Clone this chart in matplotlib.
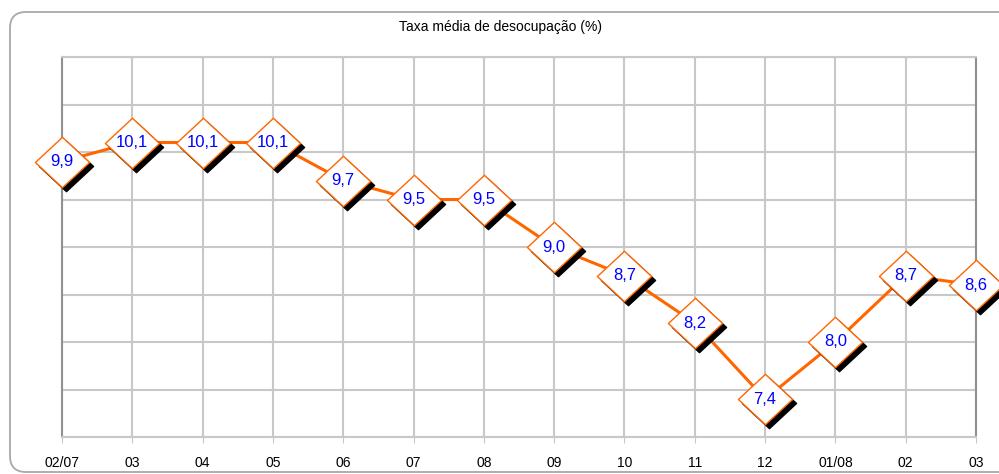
import matplotlib
matplotlib.use("Agg")
import matplotlib.pyplot as plt
from matplotlib.patches import FancyBboxPatch
from matplotlib.path import Path
import matplotlib.transforms as mtransforms

plt.rcParams['font.family'] = ['Liberation Sans', 'DejaVu Sans']

# Data
months = ['02/07', '03', '04', '05', '06', '07', '08', '09', '10', '11', '12', '01/08', '02', '03']
rates = [9.9, 10.1, 10.1, 10.1, 9.7, 9.5, 9.5, 9.0, 8.7, 8.2, 7.4, 8.0, 8.7, 8.6]
title = 'Taxa média de desocupação (%)'

orange = '#FF6600'
grid_gray = '#C8C8C8'

fig = plt.figure(figsize=(9.99, 4.74), dpi=100)

# rounded outer frame (in inches)
frame = FancyBboxPatch((0.10, 0.02), 10.05, 4.60,
                       boxstyle='round,pad=0,rounding_size=0.16',
                       transform=fig.dpi_scale_trans, facecolor='none',
                       edgecolor='#A8A8A8', linewidth=1.3, zorder=-5)
fig.patches.append(frame)

ax = fig.add_axes([62 / 999, 37 / 474, 914 / 999, 380 / 474])
ax.set_facecolor('white')

x = list(range(len(months)))
ax.set_xlim(0, len(months) - 1)
ax.set_ylim(7.0, 11.0)
ax.set_yticks([7.0 + 0.5 * i for i in range(9)])
ax.set_xticks(x)
ax.set_xticklabels(months, fontsize=10)
ax.tick_params(axis='y', left=False, labelleft=False)
ax.tick_params(axis='x', length=4, color=grid_gray, pad=10)
ax.grid(True, color=grid_gray, linewidth=1.5)
ax.set_axisbelow(True)
for side in ['left', 'right']:
    ax.spines[side].set_color('#909090')
    ax.spines[side].set_linewidth(1.5)
for side in ['top', 'bottom']:
    ax.spines[side].set_color(grid_gray)
    ax.spines[side].set_linewidth(1.5)

ax.plot(x, rates, color=orange, linewidth=2.2, zorder=3, clip_on=False)

diamond = Path([(-1.0, 0.0), (0.0, 0.93), (1.0, 0.0), (0.0, -0.93), (-1.0, 0.0)],
               [Path.MOVETO, Path.LINETO, Path.LINETO, Path.LINETO, Path.CLOSEPOLY])
shadow_tr = mtransforms.offset_copy(ax.transData, fig=fig, x=4, y=-4, units='dots')
ax.plot(x, rates, linestyle='none', marker=diamond, markersize=39,
        markerfacecolor='black', markeredgecolor='black', transform=shadow_tr,
        zorder=4, clip_on=False)
ax.plot(x, rates, linestyle='none', marker=diamond, markersize=39,
        markerfacecolor='white', markeredgecolor=orange, markeredgewidth=1.0,
        zorder=5, clip_on=False)

for xi, v in zip(x, rates):
    ax.text(xi, v, f'{v:.1f}'.replace('.', ','), ha='center', va='center',
            color='#0000FF', fontsize=12, zorder=6, clip_on=False)

fig.text(500 / 999, 1 - 27 / 474, title, ha='center', va='center', fontsize=10)

fig.savefig('out.png', dpi=100)
